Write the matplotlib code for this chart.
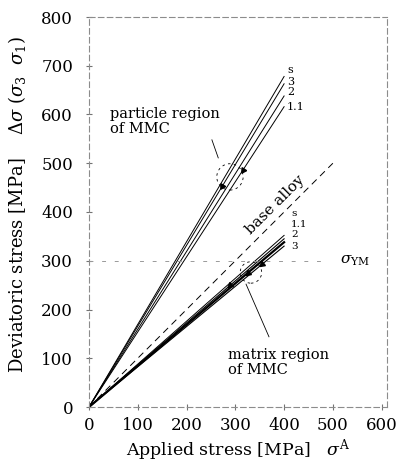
import numpy as np
import matplotlib
matplotlib.use("Agg")
import matplotlib.pyplot as plt
from matplotlib.patches import Circle

plt.rcParams["font.family"] = ["DejaVu Serif"]
plt.rcParams["mathtext.fontset"] = "dejavuserif"

# stress at the end of each curve (applied stress 400 MPa)
applied_end = 400
curve_labels = ["s", "3", "2", "1.1"]
particle_end = [678, 663, 638, 616]     # particle region of MMC
matrix_end = [352, 330, 338, 345]       # matrix region of MMC (s, 3, 2, 1.1)
matrix_labels_order = ["s", "1.1", "2", "3"]
base_end = 500                          # base alloy, slope 1
yield_matrix = 300                      # sigma_YM

# small arrow marks on the curves: (curve label, applied stress)
particle_marks = [("3", 273), ("1.1", 316)]
matrix_marks = [("1.1", 289), ("2", 326), ("3", 355)]

fig = plt.figure(figsize=(4.07, 4.65), dpi=100)
ax = fig.add_axes([89 / 407, 1 - 407 / 465, 298 / 407, 390 / 465])
ax.set_xlim(0, 611)
ax.set_ylim(0, 800)

# faded frame
for side, sp in ax.spines.items():
    sp.set_color("0.55")
    sp.set_linewidth(0.8)
    sp.set_linestyle((0, (5, 3)))

x = np.array([0, applied_end])
for lab, yend in zip(curve_labels, particle_end):
    ax.plot(x, [0, yend], color="black", lw=0.7)
matrix_lw = {"s": 0.7, "3": 0.8, "2": 1.6, "1.1": 0.8}
for lab, yend in zip(curve_labels, matrix_end):
    ax.plot(x, [0, yend], color="black", lw=matrix_lw[lab])

ax.plot([0, base_end], [0, base_end], color="black", lw=0.7,
        dashes=(7, 5))
ax.plot([0, 480], [yield_matrix, yield_matrix], color="0.6", lw=0.7,
        dashes=(4, 9))

# curve end labels
upper_text_y = {"s": 691, "3": 667, "2": 646, "1.1": 615}
for lab in curve_labels:
    ax.text(406, upper_text_y[lab], lab, fontsize=8, ha="left", va="center")
lower_text_y = {"s": 396, "1.1": 374, "2": 353, "3": 329}
for lab in matrix_labels_order:
    ax.text(414, lower_text_y[lab], lab, fontsize=7.5, ha="left",
            va="center")

# arrow marks
def mark(slope, xs):
    ang = np.degrees(np.arctan(slope))
    ax.plot(xs, slope * xs, marker=(3, 0, ang + 90), ms=4.5,
            color="black", ls="none")

for lab, xs in particle_marks:
    mark(particle_end[curve_labels.index(lab)] / applied_end, xs)
for lab, xs in matrix_marks:
    mark(matrix_end[curve_labels.index(lab)] / applied_end, xs)

# region call-outs
ax.add_patch(Circle((289, 472), 27, fill=False, ec="black", lw=0.6,
                    ls=(0, (3, 4))))
ax.plot([252, 265], [548, 511], color="black", lw=0.6)
ax.text(43, 586, "particle region\nof MMC", fontsize=10.5, ha="left",
        va="center", linespacing=1.1)

ax.add_patch(Circle((332, 276), 22, fill=False, ec="black", lw=0.6,
                    ls=(0, (3, 4))))
ax.plot([369, 322], [144, 252], color="black", lw=0.6)
ax.text(285, 92, "matrix region\nof MMC", fontsize=10.5, ha="left",
        va="center", linespacing=1.1)

ax.text(382, 414, "base alloy", fontsize=11, rotation=45,
        rotation_mode="anchor", ha="center", va="center")
ax.text(515, 300, r"$\sigma_{\rm YM}$", fontsize=11, ha="left", va="center")

ax.set_xticks([0, 100, 200, 300, 400, 500, 600])
ax.set_yticks(np.arange(0, 801, 100))
ax.tick_params(direction="inout", length=5, width=0.8, color="0.45",
               labelsize=12, pad=5)
ax.tick_params(axis="y", pad=9)
ax.set_xlabel(r"Applied stress [MPa]   $\sigma^{\rm A}$", fontsize=12.5,
              labelpad=2)
ax.set_ylabel(r"Deviatoric stress [MPa]    $\Delta\sigma$ ($\sigma_3$  $\sigma_1$)",
              fontsize=13, labelpad=6)
ax.yaxis.set_label_coords(-0.205, 0.52)

fig.savefig("out.png", dpi=100)
